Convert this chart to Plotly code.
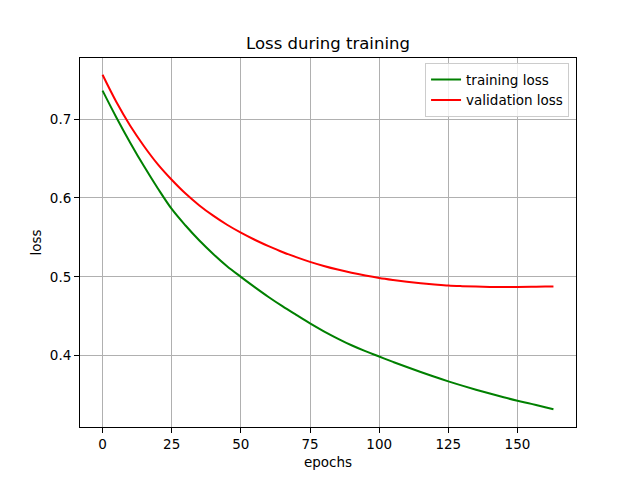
import plotly.graph_objects as go

epochs = [0, 5, 10, 15, 20, 25, 30, 35, 40, 45, 50, 55, 60, 65, 70, 75, 80, 85, 90, 95,
          100, 105, 110, 115, 120, 125, 130, 135, 140, 145, 150, 155, 160, 163]
training_loss = [0.736, 0.702, 0.670, 0.640, 0.612, 0.586, 0.565, 0.546, 0.529, 0.5135,
                 0.500, 0.487, 0.4745, 0.4628, 0.4518, 0.441, 0.431, 0.4218, 0.4133, 0.4058,
                 0.399, 0.3922, 0.3857, 0.3794, 0.3733, 0.3675, 0.3621, 0.357, 0.3521, 0.3474,
                 0.343, 0.339, 0.3348, 0.3322]
validation_loss = [0.756, 0.7215, 0.6915, 0.6655, 0.6425, 0.623, 0.6055, 0.5905, 0.5775, 0.566,
                   0.556, 0.547, 0.539, 0.5315, 0.525, 0.519, 0.5138, 0.5092, 0.5052, 0.5017,
                   0.4986, 0.4961, 0.4939, 0.492, 0.4904, 0.489, 0.4882, 0.4876, 0.4872, 0.4871,
                   0.4872, 0.4874, 0.4877, 0.4879]
x_ticks = [0, 25, 50, 75, 100, 125, 150]
y_ticks = [0.4, 0.5, 0.6, 0.7]

font = "DejaVu Sans, Liberation Sans, sans-serif"

fig = go.Figure()
fig.add_trace(go.Scatter(x=epochs, y=training_loss, mode="lines", name="training loss",
                         line=dict(color="green", width=2, shape="spline")))
fig.add_trace(go.Scatter(x=epochs, y=validation_loss, mode="lines", name="validation loss",
                         line=dict(color="red", width=2, shape="spline")))

axis_common = dict(showline=True, linecolor="black", linewidth=1, mirror=True,
                   ticks="outside", ticklen=5, tickwidth=1, tickcolor="black",
                   showgrid=True, gridcolor="#b0b0b0", gridwidth=1, zeroline=False,
                   tickfont=dict(size=13.5, color="black", family=font))

# page body has an 8px margin, so shift margins to keep the plot area at the same window position
fig.update_layout(
    width=640, height=480,
    margin=dict(l=72, r=72, t=50, b=61),
    paper_bgcolor="white", plot_bgcolor="white",
    font=dict(family=font, color="black"),
    title=dict(text="Loss during training", x=(328 - 8) / 640, xanchor="center",
               y=1 - 35 / 480, yanchor="middle",
               font=dict(size=16.5, family=font, color="black")),
    xaxis=dict(range=[-8.15, 171.15], tickvals=x_ticks,
               title=dict(text="epochs", font=dict(size=13.5), standoff=6), **axis_common),
    yaxis=dict(range=[0.3097, 0.7773], tickvals=y_ticks, tickformat=".1f",
               title=dict(text="loss", font=dict(size=13.5), standoff=5), **axis_common),
    legend=dict(x=0.986, y=0.986, xanchor="right", yanchor="top",
                bgcolor="rgba(255,255,255,0.8)", bordercolor="#cccccc", borderwidth=1,
                font=dict(size=13.5, family=font, color="black"), tracegroupgap=0),
    showlegend=True,
)

fig.write_html("out.html")
